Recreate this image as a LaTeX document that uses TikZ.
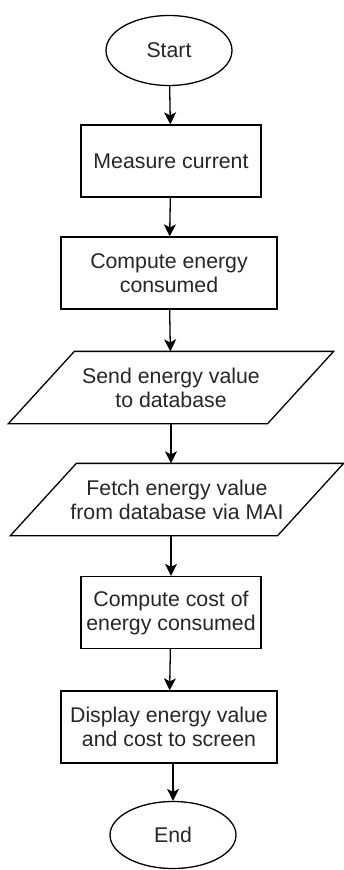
\documentclass[tikz,border=0pt]{standalone}
\usepackage{fontspec}
\setmainfont{Liberation Sans}
\usetikzlibrary{shapes.geometric,arrows.meta}
\begin{document}
\begin{tikzpicture}[x=1pt,y=-1pt,line width=1.3pt,
  every node/.style={font=\fontsize{21.3}{24}\selectfont,text=black!85,align=center,inner sep=0pt},
  term/.style={ellipse,draw,minimum width=126,minimum height=70},
  proc/.style={rectangle,draw,minimum width=#1,minimum height=72},
  io/.style={minimum width=#1,minimum height=71},
  flow/.style={-{Stealth[length=12pt,width=12pt,inset=3pt]}}]
  \useasboundingbox (0,0) rectangle (344,870);
  \node[term] (start) at (169,50.5) {Start};
  \node[proc=180] (measure) at (171,161) {Measure current};
  \node[proc=216] (energy) at (169,273) {Compute energy\\consumed};
  \node[io=258] (send) at (171,387.5) {Send energy value\\to database};
  \node[io=266] (fetch) at (177,499.5) {Fetch energy value\\from database via MAI};
  \node[proc=180] (cost) at (171,612.5) {Compute cost of\\energy consumed};
  \node[proc=216] (show) at (169,727) {Display energy value\\and cost to screen};
  \node[term,minimum height=67] (end) at (173,835) {End};
  \foreach \n in {send,fetch}
  {
    \draw ([xshift=33]\n.north west) -- ([xshift=33]\n.north east)
      -- ([xshift=-33]\n.south east) -- ([xshift=-33]\n.south west) -- cycle;
  }
  \foreach \a/\b in {start/measure,measure/energy,energy/send,cost/show}
    \draw[flow] (\a) -- (\b);
  \draw[flow] (send.south) -- (send.south |- fetch.north);
  \draw[flow] (cost.north |- fetch.south) -- (cost.north);
  \draw[flow] (end.north |- show.south) -- (end.north);
\end{tikzpicture}
\end{document}
